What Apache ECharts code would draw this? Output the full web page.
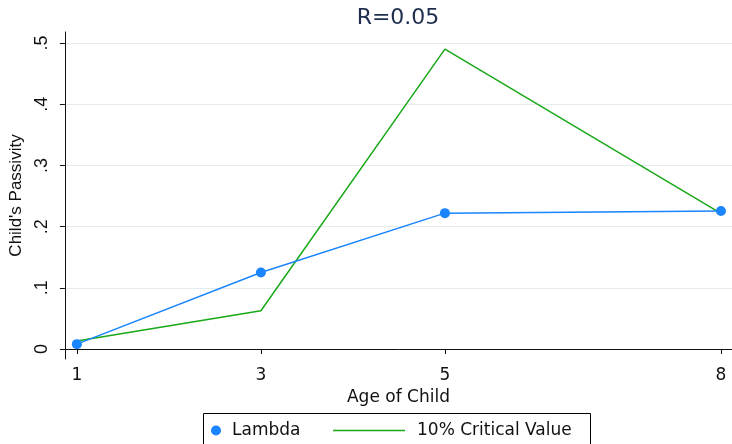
<!DOCTYPE html>
<html>
<head>
<meta charset="utf-8">
<script src="https://cdn.jsdelivr.net/npm/echarts@6/dist/echarts.min.js"></script>
<style>html,body{margin:0;padding:0;background:#fff}#c{width:732px;height:444px}</style>
</head>
<body>
<div id="c"></div>
<script>
const ages = [1, 3, 5, 8];
const lambdaValues = [0.008, 0.125, 0.222, 0.2255];
const criticalValues = [0.013, 0.0625, 0.490, 0.2215];
const xTickValues = [1, 3, 5, 8];
const yTickValues = [0, 0.1, 0.2, 0.3, 0.4, 0.5];
const yTickLabels = ['0', '.1', '.2', '.3', '.4', '.5'];
const titleText = 'R=0.05';
const seriesNames = ['Lambda', '10% Critical Value'];

const blue = '#1a85ff';
const green = '#18a818';
const axisColor = '#111';
const hFont = 'DejaVu Sans';
const vFont = 'Liberation Sans';

const chart = echarts.init(document.getElementById('c'), null, {renderer: 'canvas'});
chart.setOption({
  backgroundColor: '#fff',
  animation: false,
  title: {
    text: titleText,
    left: 393, textAlign: 'center', top: 2,
    textStyle: {fontFamily: hFont, fontSize: 22, fontWeight: 'normal', color: '#1f2d4f'}
  },
  grid: {left: 60, right: 0, top: 32, bottom: 85},
  xAxis: {
    type: 'value', min: 0.87, max: 8.12,
    name: 'Age of Child', nameLocation: 'middle', nameGap: 27,
    nameTextStyle: {fontFamily: hFont, fontSize: 17, color: '#111'},
    axisLine: {show: true, lineStyle: {color: axisColor, width: 1}},
    axisTick: {show: true, length: 5, customValues: xTickValues, lineStyle: {color: axisColor}},
    axisLabel: {customValues: xTickValues, margin: 8, fontFamily: hFont, fontSize: 17, color: '#111'},
    splitLine: {show: false}
  },
  yAxis: {
    type: 'value', min: -0.0163, max: 0.518,
    name: "Child's Passivity", nameLocation: 'middle', nameGap: 33, nameRotate: 90,
    nameTextStyle: {fontFamily: vFont, fontSize: 17, color: '#111'},
    axisLine: {show: true, lineStyle: {color: axisColor, width: 1}},
    axisTick: {show: true, length: 5, customValues: yTickValues, lineStyle: {color: axisColor}},
    axisLabel: {
      customValues: yTickValues, rotate: 90, margin: 14,
      fontFamily: vFont, fontSize: 18, color: '#111',
      formatter: v => yTickLabels[yTickValues.findIndex(t => Math.abs(t - v) < 1e-9)]
    },
    splitLine: {show: true, customValues: yTickValues, lineStyle: {color: '#e4ecee', width: 1}}
  },
  legend: [
    {
      data: [{name: seriesNames[0], icon: 'circle'}],
      left: 211, top: 422, padding: 0,
      itemWidth: 22, itemHeight: 10,
      textStyle: {fontFamily: hFont, fontSize: 17, color: '#111'}
    },
    {
      data: [{name: seriesNames[1], icon: 'rect'}],
      left: 333, top: 422, padding: 0,
      itemWidth: 72, itemHeight: 1.5,
      textStyle: {fontFamily: hFont, fontSize: 17, color: '#111', padding: [0, 0, 0, 7]}
    }
  ],
  graphic: [{
    type: 'rect', silent: true,
    shape: {x: 203.5, y: 413.5, width: 387, height: 40},
    style: {fill: 'none', stroke: '#000', lineWidth: 1}
  }],
  series: [
    {
      name: seriesNames[0], type: 'line',
      data: ages.map((a, i) => [a, lambdaValues[i]]),
      symbol: 'circle', symbolSize: 10, showAllSymbol: true,
      itemStyle: {color: blue},
      lineStyle: {color: blue, width: 1.5},
      z: 3
    },
    {
      name: seriesNames[1], type: 'line',
      data: ages.map((a, i) => [a, criticalValues[i]]),
      symbol: 'none',
      itemStyle: {color: green},
      lineStyle: {color: green, width: 1.5},
      z: 2
    }
  ]
});
</script>
</body>
</html>
